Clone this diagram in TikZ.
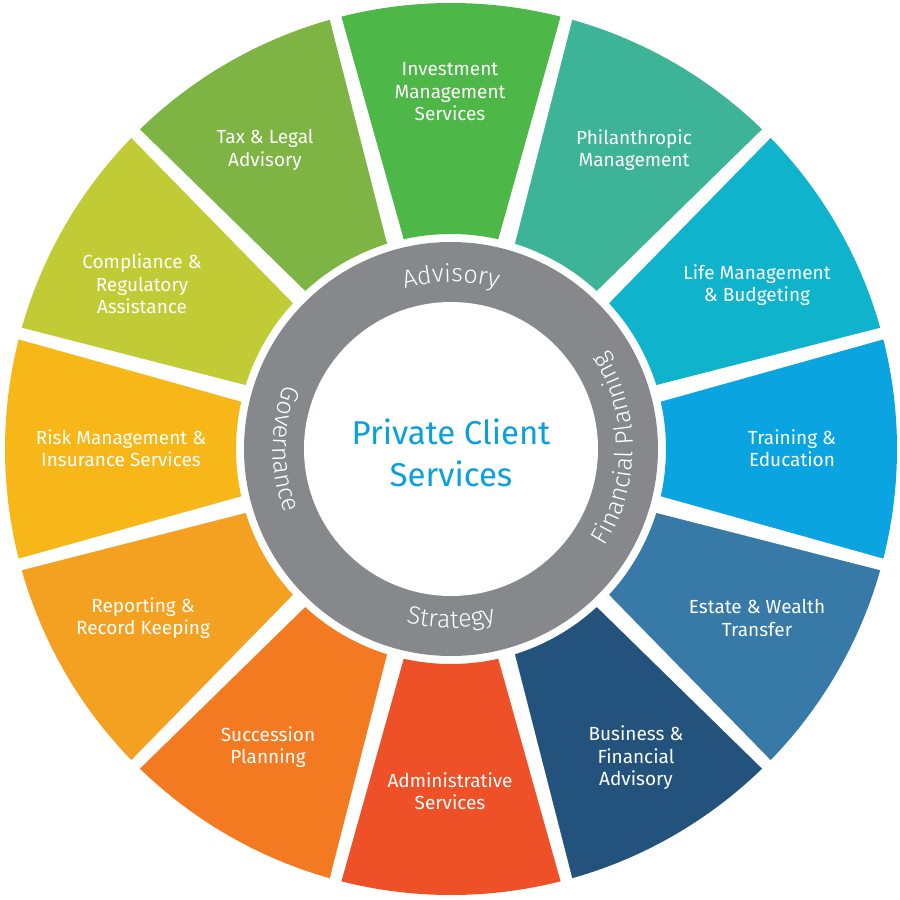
\documentclass[tikz,border=0pt]{standalone}
\usepackage{fontspec}
\setmainfont{Fira Sans}
\newfontfamily\ringfam{FiraSans-Light}
\usetikzlibrary{decorations.text}
\definecolor{invgreen}{RGB}{77,183,72}
\definecolor{philteal}{RGB}{61,180,152}
\definecolor{lifecyan}{RGB}{16,179,204}
\definecolor{trainblue}{RGB}{10,165,224}
\definecolor{estateblue}{RGB}{55,121,167}
\definecolor{busnavy}{RGB}{35,83,124}
\definecolor{adminred}{RGB}{238,81,40}
\definecolor{succorange}{RGB}{244,122,33}
\definecolor{reporange}{RGB}{244,160,32}
\definecolor{riskyellow}{RGB}{247,183,24}
\definecolor{complime}{RGB}{193,203,53}
\definecolor{taxgreen}{RGB}{125,180,67}
\definecolor{ringgray}{RGB}{135,136,139}
\definecolor{titleblue}{RGB}{10,160,220}
\newcommand{\segin}{215pt}
\newcommand{\segout}{446pt}
\newcommand{\pcsector}[3]{\fill[#1] (#2:\segin) arc[start angle=#2, end angle=#3, radius=\segin] -- (#3:\segout) arc[start angle=#3, end angle=#2, radius=\segout] -- cycle;}
\newcommand{\pcgap}[1]{\fill[white,rotate=#1] (200pt,-8.7pt) -- (460pt,-5.8pt) -- (460pt,5.8pt) -- (200pt,8.7pt) -- cycle;}
\newcommand{\lblfont}{\fontsize{19}{22.5}\selectfont}
\newcommand{\ringfont}{\ringfam\fontsize{25}{25}\selectfont}

\begin{document}
\begin{tikzpicture}[x=1pt,y=1pt]
			\useasboundingbox (-451,-451) rectangle (449,449);
			% segments
			\pcsector{invgreen}{75}{105}
			\pcsector{philteal}{45}{75}
			\pcsector{lifecyan}{15}{45}
			\pcsector{trainblue}{-15}{15}
			\pcsector{estateblue}{-45}{-15}
			\pcsector{busnavy}{-75}{-45}
			\pcsector{adminred}{-105}{-75}
			\pcsector{succorange}{-135}{-105}
			\pcsector{reporange}{-165}{-135}
			\pcsector{riskyellow}{165}{195}
			\pcsector{complime}{135}{165}
			\pcsector{taxgreen}{105}{135}
			\pcgap{15} \pcgap{45} \pcgap{75} \pcgap{105} \pcgap{135} \pcgap{165}
			\pcgap{195} \pcgap{225} \pcgap{255} \pcgap{285} \pcgap{315} \pcgap{345}
			% ring
			\fill[ringgray] (0,0) circle[radius=207pt];
			\fill[white] (0,0) circle[radius=147pt];
			\path[decorate, decoration={text along path, text align=center,
				text={|\ringfont\color{white}|Advisory}}]
				(125:167pt) arc[start angle=125, end angle=55, radius=167pt];
			\path[decorate, decoration={text along path, text align=center,
				text={|\ringfont\color{white}|Financial Planning}}]
				(-50:182pt) arc[start angle=-50, end angle=50, radius=182pt];
			\path[decorate, decoration={text along path, text align=center,
				text={|\ringfont\color{white}|Strategy}}]
				(235:179pt) arc[start angle=235, end angle=305, radius=179pt];
			\path[decorate, decoration={text along path, text align=center,
				text={|\ringfont\color{white}|Governance}}]
				(135:178pt) arc[start angle=135, end angle=225, radius=178pt];
			\begin{scope}[align=center]
			\tikzstyle{every node}=[text=white,font=\lblfont]
			\node (invest) at (-1,357) {Investment\\Management\\Services};
			\node (philan) at (183,299) {Philanthropic\\Management};
			\node (life) at (306,164) {Life Management\\\& Budgeting};
			\node (training) at (341,1) {Training \&\\Education};
			\node (estate) at (306,-169) {Estate \& Wealth\\Transfer};
			\node (business) at (185,-309) {Business \&\\Financial\\Advisory};
			\node (admin) at (-1,-342) {Administrative\\Services};
			\node (succession) at (-183,-298) {Succession\\Planning};
			\node (reporting) at (-308,-169) {Reporting \&\\Record Keeping};
			\node (risk) at (-330,1) {Risk Management \&\\Insurance Services};
			\node (compliance) at (-309,165) {Compliance \&\\Regulatory\\Assistance};
			\node (tax) at (-186,299) {Tax \& Legal\\Advisory};
			\end{scope}
			\node[text=titleblue,align=center,font=\fontsize{33}{42}\selectfont] (title) at (0,-4) {Private Client\\Services};
		\end{tikzpicture}
\end{document}
